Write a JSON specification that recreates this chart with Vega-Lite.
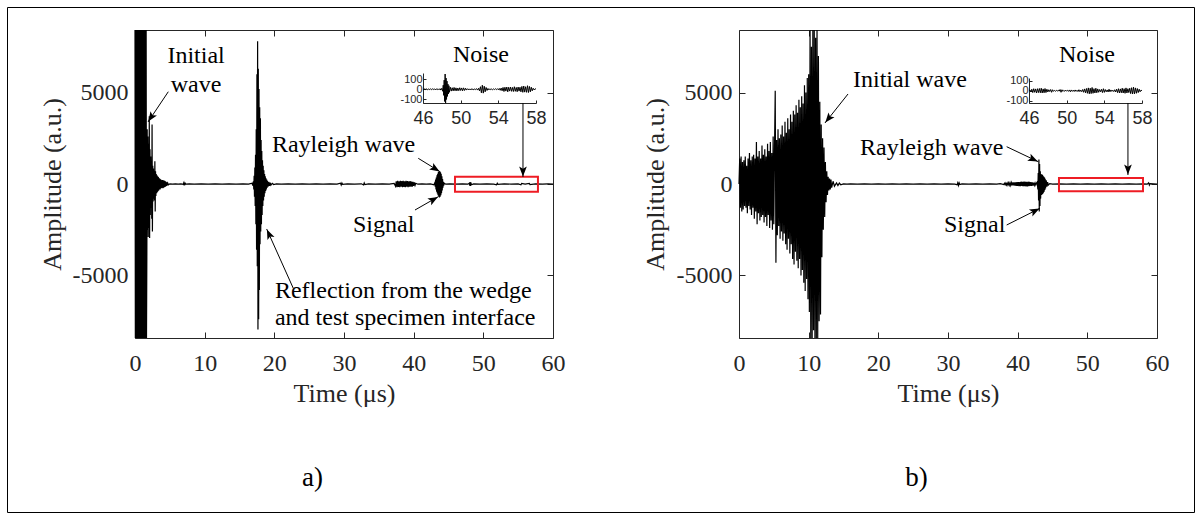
{
  "$schema": "https://vega.github.io/schema/vega-lite/v6.json",
  "width": 1187,
  "height": 505,
  "autosize": {"type": "none"},
  "padding": {"left": 7, "top": 7, "right": 8, "bottom": 9},
  "background": "white",
  "config": {
    "view": {"stroke": "#000", "strokeWidth": 1},
    "axis": {"grid": false, "labelFlush": false, "labelOverlap": false, "domainColor": "#262626", "tickColor": "#262626", "labelColor": "#262626", "titleColor": "#262626", "titleFontWeight": "normal", "labelFont": "Liberation Serif", "titleFont": "Liberation Serif", "labelFontSize": 24, "titleFontSize": 26, "domainWidth": 1, "tickWidth": 1}
  },
  "datasets": {
    "one": [{"t": 0, "v": 0}],
    "wa": [
      {"t":0,"v":9000},{"t":0.05,"v":-9000},{"t":0.1,"v":9000},{"t":0.15,"v":-9000},{"t":0.2,"v":9000},{"t":0.25,"v":-9000},{"t":0.3,"v":9000},{"t":0.35,"v":-9000},{"t":0.4,"v":9000},{"t":0.45,"v":-9000},{"t":0.5,"v":9000},{"t":0.55,"v":-9000},{"t":0.6,"v":9000},{"t":0.65,"v":-9000},{"t":0.7,"v":9000},{"t":0.75,"v":-9000},{"t":0.8,"v":9000},{"t":0.85,"v":-9000},{"t":0.9,"v":9000},{"t":0.95,"v":-9000},{"t":1.0,"v":9000},{"t":1.05,"v":-9000},{"t":1.1,"v":9000},{"t":1.15,"v":-9000},{"t":1.2,"v":9000},{"t":1.25,"v":-9000},{"t":1.3,"v":9000},{"t":1.35,"v":-9000},{"t":1.4,"v":9000},{"t":1.45,"v":-9000},{"t":1.5,"v":9000},{"t":1.55,"v":-9000},{"t":1.6,"v":9000},{"t":1.65,"v":-9000},
      {"t":1.7,"v":-4000},{"t":1.75,"v":3000},{"t":1.8,"v":-2500},{"t":1.85,"v":2600},{"t":1.9,"v":-2900},{"t":1.95,"v":2200},{"t":2.0,"v":-2400},{"t":2.05,"v":3700},{"t":2.1,"v":-2950},{"t":2.15,"v":1900},{"t":2.2,"v":-1700},{"t":2.25,"v":1500},{"t":2.3,"v":-1300},{"t":2.35,"v":1100},{"t":2.4,"v":-1900},{"t":2.45,"v":3250},{"t":2.5,"v":-2600},{"t":2.55,"v":1000},{"t":2.6,"v":-950},{"t":2.65,"v":850},{"t":2.7,"v":-800},{"t":2.75,"v":700},{"t":2.8,"v":-900},{"t":2.85,"v":1250},{"t":2.9,"v":-1500},{"t":2.95,"v":700},{"t":3.0,"v":-650},{"t":3.05,"v":550},{"t":3.1,"v":-500},{"t":3.15,"v":480},{"t":3.2,"v":-450},{"t":3.25,"v":420},{"t":3.3,"v":-400},{"t":3.35,"v":380},{"t":3.4,"v":-350},{"t":3.45,"v":330},{"t":3.5,"v":-300},{"t":3.55,"v":280},{"t":3.6,"v":-300},{"t":3.65,"v":260},{"t":3.7,"v":-250},{"t":3.75,"v":230},{"t":3.8,"v":-220},{"t":3.85,"v":200},{"t":3.9,"v":-210},{"t":3.95,"v":220},{"t":4.0,"v":-230},{"t":4.05,"v":210},{"t":4.1,"v":-200},{"t":4.15,"v":190},{"t":4.2,"v":-180},{"t":4.25,"v":170},{"t":4.3,"v":-160},{"t":4.35,"v":150},{"t":4.4,"v":-140},{"t":4.45,"v":120},{"t":4.5,"v":-110},{"t":4.55,"v":90},{"t":4.6,"v":-80},{"t":4.7,"v":50},{"t":4.8,"v":-40},{"t":5.0,"v":10},{"t":5.4,"v":-8},{"t":5.8,"v":8},{"t":6.2,"v":-8},{"t":6.6,"v":8},{"t":6.9,"v":-20},{"t":7.0,"v":70},{"t":7.05,"v":-80},{"t":7.1,"v":70},{"t":7.15,"v":-60},{"t":7.2,"v":40},{"t":7.3,"v":-10},{"t":7.8,"v":8},{"t":8.5,"v":-8},{"t":9.5,"v":8},{"t":10.5,"v":-8},{"t":11.5,"v":8},{"t":12.5,"v":-8},{"t":13.5,"v":8},{"t":14.5,"v":-8},{"t":15.5,"v":8},{"t":16.3,"v":-10},{"t":16.8,"v":40},{"t":16.9,"v":-80},
      {"t":17.0,"v":150},{"t":17.05,"v":-300},{"t":17.1,"v":450},{"t":17.15,"v":-700},{"t":17.2,"v":900},{"t":17.25,"v":-1200},{"t":17.3,"v":1600},{"t":17.35,"v":-2200},{"t":17.4,"v":3000},{"t":17.45,"v":-3600},{"t":17.5,"v":6000},{"t":17.55,"v":-4500},{"t":17.6,"v":7800},{"t":17.65,"v":-7950},{"t":17.7,"v":6300},{"t":17.75,"v":-7400},{"t":17.8,"v":5200},{"t":17.85,"v":-5800},{"t":17.9,"v":4200},{"t":17.95,"v":-3300},{"t":18.0,"v":3600},{"t":18.05,"v":-2600},{"t":18.1,"v":2400},{"t":18.15,"v":-2200},{"t":18.2,"v":1800},{"t":18.25,"v":-1700},{"t":18.3,"v":1300},{"t":18.35,"v":-1200},{"t":18.4,"v":1000},{"t":18.45,"v":-900},{"t":18.5,"v":750},{"t":18.55,"v":-700},{"t":18.6,"v":550},{"t":18.65,"v":-500},{"t":18.7,"v":420},{"t":18.75,"v":-380},{"t":18.8,"v":320},{"t":18.85,"v":-300},{"t":18.9,"v":240},{"t":18.95,"v":-220},{"t":19.0,"v":180},{"t":19.1,"v":-150},{"t":19.2,"v":120},{"t":19.3,"v":-100},{"t":19.4,"v":80},{"t":19.5,"v":-60},{"t":19.7,"v":40},{"t":19.9,"v":-30},{"t":20.3,"v":10},{"t":21,"v":-8},{"t":22,"v":8},{"t":23,"v":-8},{"t":24,"v":8},{"t":25,"v":-8},{"t":26,"v":8},{"t":27,"v":-8},{"t":28,"v":8},{"t":29,"v":-8},{"t":29.5,"v":40},{"t":29.6,"v":-60},{"t":29.7,"v":50},{"t":29.8,"v":-20},{"t":30.5,"v":8},{"t":31.5,"v":-8},{"t":32.5,"v":10},{"t":32.8,"v":-50},{"t":32.9,"v":60},{"t":33.0,"v":-30},{"t":33.5,"v":8},{"t":34.5,"v":-8},{"t":35.5,"v":8},{"t":36.5,"v":-10},{"t":37.2,"v":30},
      {"t":37.4,"v":-120},{"t":37.5,"v":150},{"t":37.6,"v":-170},{"t":37.7,"v":180},{"t":37.8,"v":-160},{"t":37.9,"v":150},{"t":38.0,"v":-180},{"t":38.1,"v":170},{"t":38.2,"v":-150},{"t":38.3,"v":160},{"t":38.4,"v":-170},{"t":38.5,"v":180},{"t":38.6,"v":-160},{"t":38.7,"v":140},{"t":38.8,"v":-170},{"t":38.9,"v":180},{"t":39.0,"v":-150},{"t":39.1,"v":160},{"t":39.2,"v":-170},{"t":39.3,"v":150},{"t":39.4,"v":-140},{"t":39.5,"v":160},{"t":39.6,"v":-150},{"t":39.7,"v":130},{"t":39.8,"v":-140},{"t":39.9,"v":120},{"t":40.0,"v":-110},{"t":40.1,"v":90},{"t":40.2,"v":-70},{"t":40.3,"v":40},{"t":40.6,"v":-10},{"t":41.2,"v":8},{"t":41.8,"v":-8},{"t":42.4,"v":10},{"t":42.9,"v":-40},
      {"t":43.05,"v":80},{"t":43.1,"v":-150},{"t":43.15,"v":250},{"t":43.2,"v":-300},{"t":43.25,"v":350},{"t":43.3,"v":-420},{"t":43.35,"v":480},{"t":43.4,"v":-520},{"t":43.45,"v":560},{"t":43.5,"v":-620},{"t":43.55,"v":650},{"t":43.6,"v":-690},{"t":43.65,"v":680},{"t":43.7,"v":-740},{"t":43.75,"v":690},{"t":43.8,"v":-700},{"t":43.85,"v":640},{"t":43.9,"v":-620},{"t":43.95,"v":560},{"t":44.0,"v":-500},{"t":44.05,"v":420},{"t":44.1,"v":-350},{"t":44.15,"v":270},{"t":44.2,"v":-200},{"t":44.25,"v":120},{"t":44.3,"v":-80},{"t":44.4,"v":40},{"t":44.6,"v":-10},{"t":45.2,"v":8},{"t":46.0,"v":-8},{"t":47.0,"v":8},{"t":47.8,"v":-10},{"t":48.0,"v":50},{"t":48.05,"v":-90},{"t":48.1,"v":110},{"t":48.15,"v":-110},{"t":48.2,"v":80},{"t":48.3,"v":-40},{"t":48.6,"v":8},{"t":49.5,"v":-8},{"t":50.5,"v":8},{"t":51.5,"v":-8},{"t":51.9,"v":-40},{"t":52.0,"v":40},{"t":52.1,"v":-20},{"t":53.0,"v":8},{"t":54.0,"v":-8},{"t":55.0,"v":8},{"t":55.4,"v":-40},{"t":55.5,"v":30},{"t":56.0,"v":-8},{"t":56.6,"v":35},{"t":56.7,"v":-30},{"t":57.5,"v":8},{"t":58.5,"v":-8},{"t":59.3,"v":8},{"t":60.0,"v":0}
    ],
    "wb": [
      {"t":0.0,"v":0},{"t":0.1,"v":1400},{"t":0.2,"v":-1300},{"t":0.3,"v":1500},{"t":0.4,"v":-1500},{"t":0.5,"v":1200},{"t":0.6,"v":-1400},{"t":0.7,"v":1300},{"t":0.8,"v":-1200},{"t":0.9,"v":1500},{"t":1.0,"v":-1300},{"t":1.1,"v":1000},{"t":1.2,"v":-1600},{"t":1.3,"v":1400},{"t":1.4,"v":-1200},{"t":1.5,"v":1700},{"t":1.6,"v":-1400},{"t":1.7,"v":1300},{"t":1.8,"v":-1700},{"t":1.9,"v":1500},{"t":2.0,"v":-1300},{"t":2.1,"v":1600},{"t":2.2,"v":-1900},{"t":2.3,"v":1400},{"t":2.4,"v":-1500},{"t":2.5,"v":2300},{"t":2.6,"v":-2200},{"t":2.7,"v":1500},{"t":2.8,"v":-1600},{"t":2.9,"v":1800},{"t":3.0,"v":-2000},{"t":3.1,"v":1400},{"t":3.2,"v":-1800},{"t":3.3,"v":2100},{"t":3.4,"v":-1700},{"t":3.5,"v":1600},{"t":3.6,"v":-2100},{"t":3.7,"v":1900},{"t":3.8,"v":-1800},{"t":3.9,"v":1500},{"t":4.0,"v":-2300},{"t":4.1,"v":2200},{"t":4.2,"v":-1700},{"t":4.3,"v":1800},{"t":4.4,"v":-2400},{"t":4.5,"v":2300},{"t":4.6,"v":-2000},{"t":4.7,"v":1700},{"t":4.8,"v":-2500},{"t":4.9,"v":2600},{"t":5.0,"v":-2200},{"t":5.1,"v":2000},{"t":5.2,"v":5100},{"t":5.3,"v":-4300},{"t":5.4,"v":2400},{"t":5.5,"v":-2800},{"t":5.6,"v":3000},{"t":5.7,"v":-2300},{"t":5.8,"v":2500},{"t":5.9,"v":-3000},{"t":6.0,"v":2700},{"t":6.1,"v":-2600},{"t":6.2,"v":3200},{"t":6.3,"v":-3100},{"t":6.4,"v":2600},{"t":6.5,"v":-2700},{"t":6.6,"v":3400},{"t":6.7,"v":-3300},{"t":6.8,"v":2800},{"t":6.9,"v":-3600},{"t":7.0,"v":3600},{"t":7.1,"v":-3000},{"t":7.2,"v":3000},{"t":7.3,"v":-3800},{"t":7.4,"v":3800},{"t":7.5,"v":-3300},{"t":7.6,"v":3400},{"t":7.7,"v":-4100},{"t":7.8,"v":4000},{"t":7.9,"v":-4400},{"t":8.0,"v":3800},{"t":8.1,"v":-3700},{"t":8.2,"v":4300},{"t":8.3,"v":-4200},{"t":8.4,"v":3900},{"t":8.5,"v":-4600},{"t":8.6,"v":4600},{"t":8.7,"v":-4100},{"t":8.8,"v":4200},{"t":8.9,"v":-5000},{"t":9.0,"v":4800},{"t":9.1,"v":-4700},{"t":9.2,"v":4400},{"t":9.3,"v":-5400},{"t":9.4,"v":5400},{"t":9.5,"v":-5850},{"t":9.6,"v":5000},{"t":9.7,"v":-5200},{"t":9.8,"v":5800},{"t":9.9,"v":-6300},{"t":10.0,"v":6000},{"t":10.1,"v":-7000},{"t":10.2,"v":9500},{"t":10.3,"v":-9500},{"t":10.4,"v":7500},{"t":10.5,"v":-9500},{"t":10.6,"v":9500},{"t":10.7,"v":-8000},{"t":10.8,"v":9500},{"t":10.9,"v":-9500},{"t":11.0,"v":8000},{"t":11.1,"v":-9500},{"t":11.2,"v":9500},{"t":11.3,"v":-8600},{"t":11.4,"v":7000},{"t":11.5,"v":-7500},{"t":11.6,"v":4500},{"t":11.7,"v":-7130},{"t":11.8,"v":3250},{"t":11.9,"v":-4000},{"t":12.0,"v":2500},{"t":12.1,"v":-2500},{"t":12.2,"v":2000},{"t":12.3,"v":-1800},{"t":12.4,"v":1200},{"t":12.5,"v":-1000},{"t":12.6,"v":700},{"t":12.7,"v":-600},{"t":12.8,"v":400},{"t":12.9,"v":-350},{"t":13.0,"v":300},{"t":13.1,"v":-300},{"t":13.2,"v":250},{"t":13.3,"v":-200},{"t":13.5,"v":150},{"t":13.7,"v":-120},{"t":14.0,"v":60},{"t":14.2,"v":-80},{"t":14.4,"v":50},{"t":14.6,"v":-40},{"t":15.0,"v":10},{"t":15.5,"v":-8},{"t":16.0,"v":8},{"t":17.0,"v":-8},{"t":18.0,"v":8},{"t":19.0,"v":-8},{"t":20.0,"v":8},{"t":21.0,"v":-8},{"t":22.0,"v":8},{"t":23.0,"v":-8},{"t":24.0,"v":8},{"t":25.0,"v":-8},{"t":26.0,"v":8},{"t":27.0,"v":-8},{"t":28.0,"v":8},{"t":29.0,"v":-8},{"t":30.0,"v":8},{"t":31.0,"v":-10},{"t":31.3,"v":-40},{"t":31.4,"v":70},{"t":31.5,"v":-80},{"t":31.6,"v":60},{"t":31.7,"v":-30},{"t":32.0,"v":8},{"t":33.0,"v":-8},{"t":34.0,"v":10},{"t":35.0,"v":-10},{"t":36.0,"v":12},{"t":37.0,"v":-12},{"t":37.5,"v":15},
      {"t":38.0,"v":-30},{"t":38.1,"v":40},{"t":38.2,"v":-45},{"t":38.3,"v":50},{"t":38.4,"v":-55},{"t":38.5,"v":50},{"t":38.6,"v":-60},{"t":38.7,"v":65},{"t":38.8,"v":-60},{"t":38.9,"v":70},{"t":39.0,"v":-75},{"t":39.1,"v":70},{"t":39.2,"v":-80},{"t":39.3,"v":85},{"t":39.4,"v":-80},{"t":39.5,"v":90},{"t":39.6,"v":-95},{"t":39.7,"v":90},{"t":39.8,"v":-100},{"t":39.9,"v":105},{"t":40.0,"v":-100},{"t":40.1,"v":110},{"t":40.2,"v":-115},{"t":40.3,"v":110},{"t":40.4,"v":-120},{"t":40.5,"v":125},{"t":40.6,"v":-110},{"t":40.7,"v":120},{"t":40.8,"v":-125},{"t":40.9,"v":130},{"t":41.0,"v":-120},{"t":41.1,"v":125},{"t":41.2,"v":-130},{"t":41.3,"v":120},{"t":41.4,"v":-130},{"t":41.5,"v":125},{"t":41.6,"v":-115},{"t":41.7,"v":120},{"t":41.8,"v":-110},{"t":41.9,"v":100},{"t":42.0,"v":-105},{"t":42.1,"v":90},{"t":42.2,"v":-85},{"t":42.3,"v":80},{"t":42.4,"v":-70},{"t":42.5,"v":60},{"t":42.6,"v":-55},{"t":42.7,"v":50},{"t":42.8,"v":100},
      {"t":42.9,"v":-300},{"t":42.95,"v":600},{"t":43.0,"v":-900},{"t":43.05,"v":1339},{"t":43.1,"v":-1500},{"t":43.15,"v":1100},{"t":43.2,"v":-1200},{"t":43.25,"v":700},{"t":43.3,"v":-800},{"t":43.35,"v":550},{"t":43.4,"v":-600},{"t":43.45,"v":520},{"t":43.5,"v":-580},{"t":43.55,"v":500},{"t":43.6,"v":-540},{"t":43.65,"v":450},{"t":43.7,"v":-480},{"t":43.75,"v":400},{"t":43.8,"v":-420},{"t":43.85,"v":350},{"t":43.9,"v":-330},{"t":43.95,"v":280},{"t":44.0,"v":-250},{"t":44.1,"v":200},{"t":44.2,"v":-150},{"t":44.3,"v":100},{"t":44.4,"v":-60},{"t":44.6,"v":20},{"t":45.0,"v":-8},{"t":46.0,"v":8},{"t":47.0,"v":-8},{"t":48.0,"v":8},{"t":49.0,"v":-8},{"t":50.0,"v":8},{"t":51.0,"v":-8},{"t":52.0,"v":8},{"t":53.0,"v":-8},{"t":54.0,"v":8},{"t":55.0,"v":-8},{"t":56.0,"v":8},{"t":57.0,"v":-8},{"t":58.0,"v":8},{"t":58.6,"v":-10},{"t":58.8,"v":60},{"t":58.9,"v":-60},{"t":59.0,"v":20},{"t":60.0,"v":0}
    ],
    "na": [
      {"t":46.0,"v":3},{"t":46.1,"v":-4},{"t":46.2,"v":5},{"t":46.3,"v":-3},{"t":46.4,"v":4},{"t":46.5,"v":-5},{"t":46.6,"v":3},{"t":46.7,"v":-4},{"t":46.8,"v":6},{"t":46.9,"v":-5},{"t":47.0,"v":4},{"t":47.1,"v":-3},{"t":47.2,"v":5},{"t":47.3,"v":-6},{"t":47.4,"v":4},{"t":47.5,"v":-4},{"t":47.6,"v":5},{"t":47.7,"v":-5},{"t":47.8,"v":6},{"t":47.9,"v":-8},{"t":48.0,"v":10},{"t":48.1,"v":-20},{"t":48.15,"v":40},{"t":48.2,"v":-60},{"t":48.25,"v":90},{"t":48.3,"v":-120},{"t":48.35,"v":150},{"t":48.4,"v":-135},{"t":48.45,"v":110},{"t":48.5,"v":-100},{"t":48.55,"v":80},{"t":48.6,"v":-70},{"t":48.65,"v":50},{"t":48.7,"v":-45},{"t":48.75,"v":35},{"t":48.8,"v":-30},{"t":48.9,"v":20},{"t":49.0,"v":-18},{"t":49.1,"v":15},{"t":49.2,"v":-16},{"t":49.3,"v":18},{"t":49.4,"v":-15},{"t":49.5,"v":14},{"t":49.6,"v":-16},{"t":49.7,"v":12},{"t":49.8,"v":-14},{"t":49.9,"v":15},{"t":50.0,"v":-12},{"t":50.1,"v":13},{"t":50.2,"v":-15},{"t":50.3,"v":14},{"t":50.4,"v":-12},{"t":50.5,"v":10},{"t":50.6,"v":-8},{"t":50.7,"v":6},{"t":50.8,"v":-5},{"t":50.9,"v":4},{"t":51.0,"v":-6},{"t":51.1,"v":5},{"t":51.2,"v":-4},{"t":51.3,"v":3},{"t":51.4,"v":-5},{"t":51.5,"v":4},{"t":51.6,"v":-3},{"t":51.7,"v":6},{"t":51.8,"v":-8},{"t":51.9,"v":10},{"t":52.0,"v":-15},{"t":52.1,"v":25},{"t":52.2,"v":-35},{"t":52.3,"v":40},{"t":52.4,"v":-38},{"t":52.5,"v":30},{"t":52.6,"v":-25},{"t":52.7,"v":18},{"t":52.8,"v":-12},{"t":52.9,"v":8},{"t":53.0,"v":-6},{"t":53.1,"v":5},{"t":53.2,"v":-4},{"t":53.3,"v":3},{"t":53.4,"v":-5},{"t":53.5,"v":4},{"t":53.6,"v":-3},{"t":53.7,"v":5},{"t":53.8,"v":-4},{"t":53.9,"v":6},{"t":54.0,"v":-5},{"t":54.1,"v":8},{"t":54.2,"v":-10},{"t":54.3,"v":12},{"t":54.4,"v":-15},{"t":54.5,"v":18},{"t":54.6,"v":-22},{"t":54.7,"v":20},{"t":54.8,"v":-18},{"t":54.9,"v":22},{"t":55.0,"v":-25},{"t":55.1,"v":20},{"t":55.2,"v":-18},{"t":55.3,"v":22},{"t":55.4,"v":-20},{"t":55.5,"v":18},{"t":55.6,"v":-22},{"t":55.7,"v":25},{"t":55.8,"v":-20},{"t":55.9,"v":18},{"t":56.0,"v":-24},{"t":56.1,"v":22},{"t":56.2,"v":-18},{"t":56.3,"v":20},{"t":56.4,"v":-25},{"t":56.5,"v":28},{"t":56.6,"v":-30},{"t":56.7,"v":32},{"t":56.8,"v":-28},{"t":56.9,"v":25},{"t":57.0,"v":-30},{"t":57.1,"v":35},{"t":57.2,"v":-32},{"t":57.3,"v":28},{"t":57.4,"v":-25},{"t":57.5,"v":20},{"t":57.6,"v":-15},{"t":57.7,"v":10},{"t":57.8,"v":-6},{"t":57.9,"v":4},{"t":58.0,"v":2}
    ],
    "nb": [
      {"t":46.0,"v":0},{"t":46.1,"v":8},{"t":46.2,"v":-10},{"t":46.3,"v":15},{"t":46.4,"v":-18},{"t":46.5,"v":20},{"t":46.6,"v":-15},{"t":46.7,"v":18},{"t":46.8,"v":-22},{"t":46.9,"v":20},{"t":47.0,"v":-18},{"t":47.1,"v":22},{"t":47.2,"v":-20},{"t":47.3,"v":25},{"t":47.4,"v":-22},{"t":47.5,"v":18},{"t":47.6,"v":-20},{"t":47.7,"v":22},{"t":47.8,"v":-18},{"t":47.9,"v":15},{"t":48.0,"v":-12},{"t":48.1,"v":10},{"t":48.2,"v":-8},{"t":48.3,"v":12},{"t":48.4,"v":-15},{"t":48.5,"v":10},{"t":48.6,"v":-6},{"t":48.7,"v":4},{"t":48.8,"v":-5},{"t":48.9,"v":4},{"t":49.0,"v":-3},{"t":49.1,"v":5},{"t":49.2,"v":-4},{"t":49.3,"v":12},{"t":49.4,"v":-15},{"t":49.5,"v":10},{"t":49.6,"v":-6},{"t":49.7,"v":4},{"t":49.8,"v":-5},{"t":49.9,"v":6},{"t":50.0,"v":-4},{"t":50.1,"v":5},{"t":50.2,"v":-6},{"t":50.3,"v":8},{"t":50.4,"v":-10},{"t":50.5,"v":8},{"t":50.6,"v":-6},{"t":50.7,"v":5},{"t":50.8,"v":-7},{"t":50.9,"v":8},{"t":51.0,"v":-6},{"t":51.1,"v":5},{"t":51.2,"v":-8},{"t":51.3,"v":10},{"t":51.4,"v":-8},{"t":51.5,"v":6},{"t":51.6,"v":-9},{"t":51.7,"v":12},{"t":51.8,"v":-15},{"t":51.9,"v":18},{"t":52.0,"v":-20},{"t":52.1,"v":22},{"t":52.2,"v":-25},{"t":52.3,"v":28},{"t":52.4,"v":-30},{"t":52.5,"v":25},{"t":52.6,"v":-28},{"t":52.7,"v":32},{"t":52.8,"v":-25},{"t":52.9,"v":20},{"t":53.0,"v":-22},{"t":53.1,"v":25},{"t":53.2,"v":-20},{"t":53.3,"v":18},{"t":53.4,"v":-15},{"t":53.5,"v":12},{"t":53.6,"v":-10},{"t":53.7,"v":14},{"t":53.8,"v":-18},{"t":53.9,"v":20},{"t":54.0,"v":-16},{"t":54.1,"v":12},{"t":54.2,"v":-10},{"t":54.3,"v":8},{"t":54.4,"v":-12},{"t":54.5,"v":15},{"t":54.6,"v":-10},{"t":54.7,"v":8},{"t":54.8,"v":-6},{"t":54.9,"v":5},{"t":55.0,"v":-8},{"t":55.1,"v":10},{"t":55.2,"v":-12},{"t":55.3,"v":15},{"t":55.4,"v":-18},{"t":55.5,"v":20},{"t":55.6,"v":-22},{"t":55.7,"v":18},{"t":55.8,"v":-20},{"t":55.9,"v":25},{"t":56.0,"v":-22},{"t":56.1,"v":20},{"t":56.2,"v":-25},{"t":56.3,"v":28},{"t":56.4,"v":-22},{"t":56.5,"v":20},{"t":56.6,"v":-18},{"t":56.7,"v":25},{"t":56.8,"v":-28},{"t":56.9,"v":30},{"t":57.0,"v":-32},{"t":57.1,"v":35},{"t":57.2,"v":-30},{"t":57.3,"v":28},{"t":57.4,"v":-25},{"t":57.5,"v":22},{"t":57.6,"v":-18},{"t":57.7,"v":15},{"t":57.8,"v":-10},{"t":57.9,"v":6},{"t":58.0,"v":0}
    ],
    "boxa": [{"t": 45.93, "t2": 57.84, "v": 400, "v2": -420}],
    "boxb": [{"t": 45.93, "t2": 57.99, "v": 330, "v2": -400}],
    "arra": [
      {"t": 4.78, "v": 5046, "t2": 1.87, "v2": 3390},
      {"t": 22.72, "v": -5703, "t2": 18.9, "v2": -2460},
      {"t": 40.66, "v": 1405, "t2": 43.78, "v2": 673},
      {"t": 40.19, "v": -1422, "t2": 43.53, "v2": -694},
      {"t": 55.69, "v": 4429, "t2": 55.69, "v2": 383}
    ],
    "heada": [
      {"t": 2.34, "v": 3663, "ang": -146.3},
      {"t": 19.26, "v": -2761, "ang": -24.2},
      {"t": 43.05, "v": 847, "ang": 121.7},
      {"t": 42.79, "v": -858, "ang": 60.3},
      {"t": 55.69, "v": 711, "ang": 180}
    ],
    "arrb": [
      {"t": 15.65, "v": 4921, "t2": 12.34, "v2": 3335},
      {"t": 38.42, "v": 2039, "t2": 42.96, "v2": 1219},
      {"t": 38.42, "v": -2242, "t2": 43.2, "v2": -1329},
      {"t": 55.83, "v": 4429, "t2": 55.83, "v2": 492}
    ],
    "headb": [
      {"t": 12.88, "v": 3592, "ang": -141.6},
      {"t": 42.18, "v": 1361, "ang": 115.4},
      {"t": 42.43, "v": -1476, "ang": 63.4},
      {"t": 55.83, "v": 820, "ang": 180}
    ],
    "txta": [
      {"label": "Initial", "t": 4.66, "v": 6616},
      {"label": "wave", "t": 5.12, "v": 5030},
      {"label": "Noise", "t": 45.64, "v": 6670},
      {"label": "Rayleigh wave", "t": 19.66, "v": 1750},
      {"label": "Signal", "t": 31.29, "v": -2624},
      {"label": "Reflection from the wedge", "t": 20.09, "v": -6233},
      {"label": "and test specimen interface", "t": 20.09, "v": -7709}
    ],
    "txtb": [
      {"label": "Initial wave", "t": 16.36, "v": 5303},
      {"label": "Noise", "t": 45.93, "v": 6670},
      {"label": "Rayleigh wave", "t": 17.37, "v": 1586},
      {"label": "Signal", "t": 29.42, "v": -2624}
    ]
  },
  "layer": [
    {
      "data": {"name": "wa"},
      "mark": {"type": "line", "color": "#000", "strokeWidth": 1.2},
      "encoding": {
        "x": {"field": "t", "type": "quantitative", "scale": {"domain": [0, 60], "range": [128, 546], "nice": false, "zero": false},
              "axis": {"orient": "bottom", "offset": -174, "values": [0, 10, 20, 30, 40, 50, 60], "tickSize": -6, "labelPadding": 19, "title": "Time (μs)", "titleX": 337, "titleY": 55, "titleBaseline": "middle", "titleAngle": 0}},
        "y": {"field": "v", "type": "quantitative", "scale": {"domain": [-8420, 8420], "range": [331, 23], "nice": false, "zero": false, "clamp": true},
              "axis": {"orient": "left", "offset": -128, "values": [-5000, 0, 5000], "tickSize": -6, "labelPadding": 13, "labelExpr": "toString(datum.value)", "title": "Amplitude (a.u.)", "titleX": -83, "titleY": 177, "titleBaseline": "middle", "titleAngle": 270}}
      }
    },
    {
      "data": {"name": "one"},
      "mark": {"type": "point", "opacity": 0},
      "encoding": {
        "x": {"field": "t", "type": "quantitative", "scale": {"domain": [0, 60], "range": [128, 546], "nice": false, "zero": false},
              "axis": {"orient": "top", "offset": -23, "values": [0, 10, 20, 30, 40, 50, 60], "tickSize": -6, "labels": false, "title": "a)", "titleX": 305, "titleY": 447, "titleBaseline": "middle", "titleAngle": 0, "titleFontSize": 27, "titleColor": "#000"}},
        "y": {"field": "v", "type": "quantitative", "scale": {"domain": [-8420, 8420], "range": [331, 23], "nice": false, "zero": false},
              "axis": {"orient": "right", "offset": -641, "values": [-5000, 0, 5000], "tickSize": -6, "labels": false, "title": null}}
      }
    },
    {
      "data": {"name": "na"},
      "mark": {"type": "line", "color": "#000", "strokeWidth": 1},
      "encoding": {
        "x": {"field": "t", "type": "quantitative", "scale": {"domain": [46, 58], "range": [416, 529], "nice": false, "zero": false},
              "axis": {"orient": "bottom", "offset": -409, "values": [46, 50, 54, 58], "tickSize": -3, "labelPadding": 9, "labelFont": "Liberation Sans", "labelFontSize": 18, "title": null}},
        "y": {"field": "v", "type": "quantitative", "scale": {"domain": [-135, 160], "range": [96, 66], "nice": false, "zero": false},
              "axis": {"orient": "left", "offset": -416, "values": [-100, 0, 100], "tickSize": -3, "labelPadding": 4, "labelFont": "Liberation Sans", "labelFontSize": 11, "labelExpr": "toString(datum.value)", "title": null}}
      }
    },
    {
      "data": {"name": "boxa"},
      "mark": {"type": "rect", "filled": false, "color": "#ee1c24", "strokeWidth": 2},
      "encoding": {
        "x": {"field": "t", "type": "quantitative", "scale": {"domain": [0, 60], "range": [128, 546], "nice": false, "zero": false}, "axis": null},
        "x2": {"field": "t2"},
        "y": {"field": "v", "type": "quantitative", "scale": {"domain": [-8420, 8420], "range": [331, 23], "nice": false, "zero": false}, "axis": null},
        "y2": {"field": "v2"}
      }
    },
    {
      "data": {"name": "arra"},
      "mark": {"type": "rule", "color": "#000", "strokeWidth": 1},
      "encoding": {
        "x": {"field": "t", "type": "quantitative", "scale": {"domain": [0, 60], "range": [128, 546], "nice": false, "zero": false}, "axis": null},
        "x2": {"field": "t2"},
        "y": {"field": "v", "type": "quantitative", "scale": {"domain": [-8420, 8420], "range": [331, 23], "nice": false, "zero": false}, "axis": null},
        "y2": {"field": "v2"}
      }
    },
    {
      "data": {"name": "heada"},
      "mark": {"type": "point", "shape": "M0,-1L0.7,0.8L0,0.4L-0.7,0.8Z", "filled": true, "size": 121, "color": "#000", "opacity": 1, "strokeWidth": 0},
      "encoding": {
        "x": {"field": "t", "type": "quantitative", "scale": {"domain": [0, 60], "range": [128, 546], "nice": false, "zero": false}, "axis": null},
        "y": {"field": "v", "type": "quantitative", "scale": {"domain": [-8420, 8420], "range": [331, 23], "nice": false, "zero": false}, "axis": null},
        "angle": {"field": "ang", "type": "quantitative", "scale": null}
      }
    },
    {
      "data": {"name": "txta"},
      "mark": {"type": "text", "align": "left", "baseline": "alphabetic", "font": "Liberation Serif", "fontSize": 24, "color": "#000"},
      "encoding": {
        "x": {"field": "t", "type": "quantitative", "scale": {"domain": [0, 60], "range": [128, 546], "nice": false, "zero": false}, "axis": null},
        "y": {"field": "v", "type": "quantitative", "scale": {"domain": [-8420, 8420], "range": [331, 23], "nice": false, "zero": false}, "axis": null},
        "text": {"field": "label"}
      }
    },
    {
      "data": {"name": "wb"},
      "mark": {"type": "line", "color": "#000", "strokeWidth": 1.2},
      "encoding": {
        "x": {"field": "t", "type": "quantitative", "scale": {"domain": [0, 60], "range": [732, 1150], "nice": false, "zero": false},
              "axis": {"orient": "bottom", "offset": -174, "values": [0, 10, 20, 30, 40, 50, 60], "tickSize": -6, "labelPadding": 19, "title": "Time (μs)", "titleX": 941, "titleY": 55, "titleBaseline": "middle", "titleAngle": 0}},
        "y": {"field": "v", "type": "quantitative", "scale": {"domain": [-8420, 8420], "range": [331, 23], "nice": false, "zero": false, "clamp": true},
              "axis": {"orient": "left", "offset": -732, "values": [-5000, 0, 5000], "tickSize": -6, "labelPadding": 13, "labelExpr": "toString(datum.value)", "title": "Amplitude (a.u.)", "titleX": -84, "titleY": 177, "titleBaseline": "middle", "titleAngle": 270}}
      }
    },
    {
      "data": {"name": "one"},
      "mark": {"type": "point", "opacity": 0},
      "encoding": {
        "x": {"field": "t", "type": "quantitative", "scale": {"domain": [0, 60], "range": [732, 1150], "nice": false, "zero": false},
              "axis": {"orient": "top", "offset": -23, "values": [0, 10, 20, 30, 40, 50, 60], "tickSize": -6, "labels": false, "title": "b)", "titleX": 909, "titleY": 447, "titleBaseline": "middle", "titleAngle": 0, "titleFontSize": 27, "titleColor": "#000"}},
        "y": {"field": "v", "type": "quantitative", "scale": {"domain": [-8420, 8420], "range": [331, 23], "nice": false, "zero": false},
              "axis": {"orient": "right", "offset": -37, "values": [-5000, 0, 5000], "tickSize": -6, "labels": false, "title": null}}
      }
    },
    {
      "data": {"name": "nb"},
      "mark": {"type": "line", "color": "#000", "strokeWidth": 1},
      "encoding": {
        "x": {"field": "t", "type": "quantitative", "scale": {"domain": [46, 58], "range": [1022, 1135], "nice": false, "zero": false},
              "axis": {"orient": "bottom", "offset": -409, "values": [46, 50, 54, 58], "tickSize": -3, "labelPadding": 9, "labelFont": "Liberation Sans", "labelFontSize": 18, "title": null}},
        "y": {"field": "v", "type": "quantitative", "scale": {"domain": [-120, 125], "range": [96, 71], "nice": false, "zero": false},
              "axis": {"orient": "left", "offset": -1022, "values": [-100, 0, 100], "tickSize": -3, "labelPadding": 4, "labelFont": "Liberation Sans", "labelFontSize": 11, "labelExpr": "toString(datum.value)", "title": null}}
      }
    },
    {
      "data": {"name": "boxb"},
      "mark": {"type": "rect", "filled": false, "color": "#ee1c24", "strokeWidth": 2},
      "encoding": {
        "x": {"field": "t", "type": "quantitative", "scale": {"domain": [0, 60], "range": [732, 1150], "nice": false, "zero": false}, "axis": null},
        "x2": {"field": "t2"},
        "y": {"field": "v", "type": "quantitative", "scale": {"domain": [-8420, 8420], "range": [331, 23], "nice": false, "zero": false}, "axis": null},
        "y2": {"field": "v2"}
      }
    },
    {
      "data": {"name": "arrb"},
      "mark": {"type": "rule", "color": "#000", "strokeWidth": 1},
      "encoding": {
        "x": {"field": "t", "type": "quantitative", "scale": {"domain": [0, 60], "range": [732, 1150], "nice": false, "zero": false}, "axis": null},
        "x2": {"field": "t2"},
        "y": {"field": "v", "type": "quantitative", "scale": {"domain": [-8420, 8420], "range": [331, 23], "nice": false, "zero": false}, "axis": null},
        "y2": {"field": "v2"}
      }
    },
    {
      "data": {"name": "headb"},
      "mark": {"type": "point", "shape": "M0,-1L0.7,0.8L0,0.4L-0.7,0.8Z", "filled": true, "size": 121, "color": "#000", "opacity": 1, "strokeWidth": 0},
      "encoding": {
        "x": {"field": "t", "type": "quantitative", "scale": {"domain": [0, 60], "range": [732, 1150], "nice": false, "zero": false}, "axis": null},
        "y": {"field": "v", "type": "quantitative", "scale": {"domain": [-8420, 8420], "range": [331, 23], "nice": false, "zero": false}, "axis": null},
        "angle": {"field": "ang", "type": "quantitative", "scale": null}
      }
    },
    {
      "data": {"name": "txtb"},
      "mark": {"type": "text", "align": "left", "baseline": "alphabetic", "font": "Liberation Serif", "fontSize": 24, "color": "#000"},
      "encoding": {
        "x": {"field": "t", "type": "quantitative", "scale": {"domain": [0, 60], "range": [732, 1150], "nice": false, "zero": false}, "axis": null},
        "y": {"field": "v", "type": "quantitative", "scale": {"domain": [-8420, 8420], "range": [331, 23], "nice": false, "zero": false}, "axis": null},
        "text": {"field": "label"}
      }
    }
  ],
  "resolve": {"scale": {"x": "independent", "y": "independent"}, "axis": {"x": "independent", "y": "independent"}}
}
